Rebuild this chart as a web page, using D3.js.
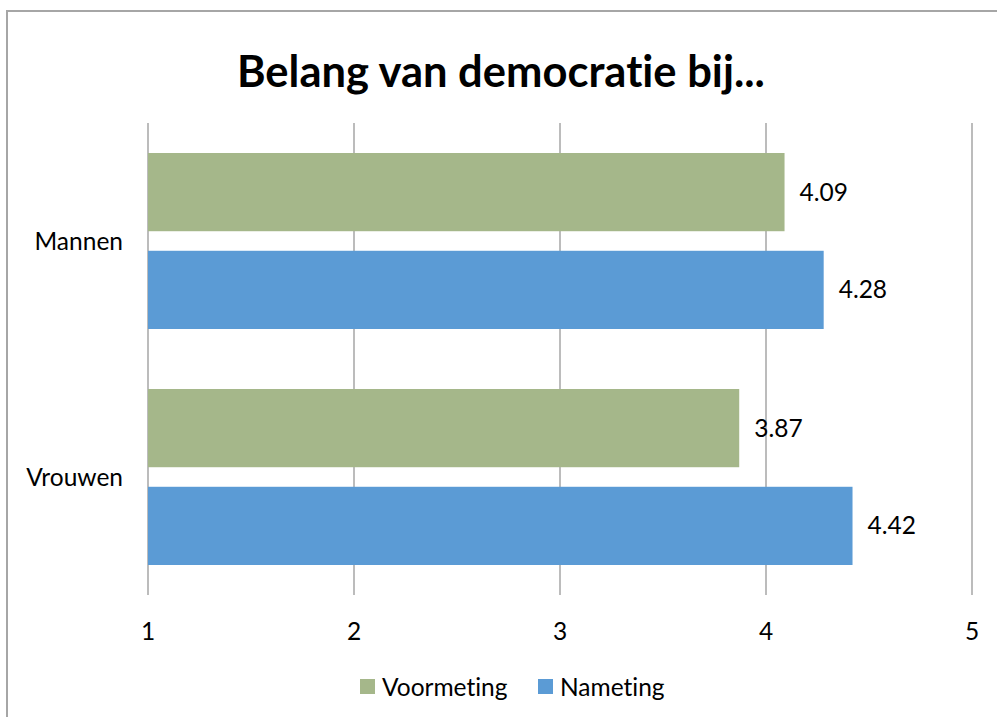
<!DOCTYPE html>
<html>
<head>
<meta charset="utf-8">
<script src="https://cdn.jsdelivr.net/npm/d3@7"></script>
<style>
  body { margin: 0; background: #fff; }
  text { font-family: Lato, "Open Sans", sans-serif; fill: #000; font-variant-ligatures: none; }
</style>
</head>
<body>
<script>
// data
var categories = ['Mannen', 'Vrouwen'];
var seriesNames = ['Voormeting', 'Nameting'];
var voormeting = [4.09, 3.87];
var nameting = [4.28, 4.42];
var tickValues = [1, 2, 3, 4, 5];
var colors = ['#a5b78a', '#5b9bd5'];

var width = 997, height = 717;
var fontSize = '24.5px';

var svg = d3.select('body').append('svg')
    .attr('width', width).attr('height', height);

// outer chart border (runs off the right/bottom edge)
svg.append('rect')
    .attr('x', 7).attr('y', 11)
    .attr('width', width + 10).attr('height', height + 10)
    .attr('fill', 'none').attr('stroke', '#a6a6a6').attr('stroke-width', 2);

svg.append('text')
    .attr('x', 501).attr('y', 87)
    .attr('text-anchor', 'middle')
    .style('font-size', '43.5px').style('font-weight', 'bold')
    .text('Belang van democratie bij...');

var x = d3.scaleLinear().domain([1, 5]).range([148, 972]);
var y = d3.scaleBand().domain(categories).range([123, 595]);
var ySub = d3.scaleBand().domain(seriesNames)
    .range([30, y.bandwidth() - 30]).paddingInner(0.2);

// gridlines
svg.append('g').selectAll('line')
    .data(tickValues)
    .enter().append('line')
    .attr('x1', function(d) { return x(d); })
    .attr('x2', function(d) { return x(d); })
    .attr('y1', 123).attr('y2', 595)
    .attr('stroke', '#a6a6a6').attr('stroke-width', 1.5);

// tick labels
svg.append('g').selectAll('text')
    .data(tickValues)
    .enter().append('text')
    .attr('x', function(d) { return x(d); })
    .attr('y', 631)
    .attr('dy', '0.35em')
    .attr('text-anchor', 'middle')
    .style('font-size', fontSize)
    .text(function(d) { return d; });

// category labels
svg.append('g').selectAll('text')
    .data(categories)
    .enter().append('text')
    .attr('x', 123)
    .attr('y', function(d) { return y(d) + y.bandwidth() / 2; })
    .attr('dy', '0.35em')
    .attr('text-anchor', 'end')
    .style('font-size', fontSize)
    .text(function(d) { return d; });

// bars
var rows = [];
categories.forEach(function(c, i) {
    rows.push({ cat: c, series: seriesNames[0], value: voormeting[i], color: colors[0] });
    rows.push({ cat: c, series: seriesNames[1], value: nameting[i], color: colors[1] });
});

svg.append('g').selectAll('rect')
    .data(rows)
    .enter().append('rect')
    .attr('x', x(1))
    .attr('y', function(d) { return y(d.cat) + ySub(d.series); })
    .attr('width', function(d) { return x(d.value) - x(1); })
    .attr('height', ySub.bandwidth())
    .attr('fill', function(d) { return d.color; });

// value labels
svg.append('g').selectAll('text')
    .data(rows)
    .enter().append('text')
    .attr('x', function(d) { return x(d.value) + 15; })
    .attr('y', function(d) { return y(d.cat) + ySub(d.series) + ySub.bandwidth() / 2; })
    .attr('dy', '0.35em')
    .style('font-size', fontSize)
    .text(function(d) { return d.value.toFixed(2); });

// legend
var legend = svg.append('g');
var legendX = [360, 538];
seriesNames.forEach(function(s, i) {
    legend.append('rect')
        .attr('x', legendX[i]).attr('y', 679)
        .attr('width', 15).attr('height', 15)
        .attr('fill', colors[i]);
    legend.append('text')
        .attr('x', legendX[i] + 22).attr('y', 687)
        .attr('dy', '0.35em')
        .style('font-size', fontSize)
        .text(s);
});
</script>
</body>
</html>
